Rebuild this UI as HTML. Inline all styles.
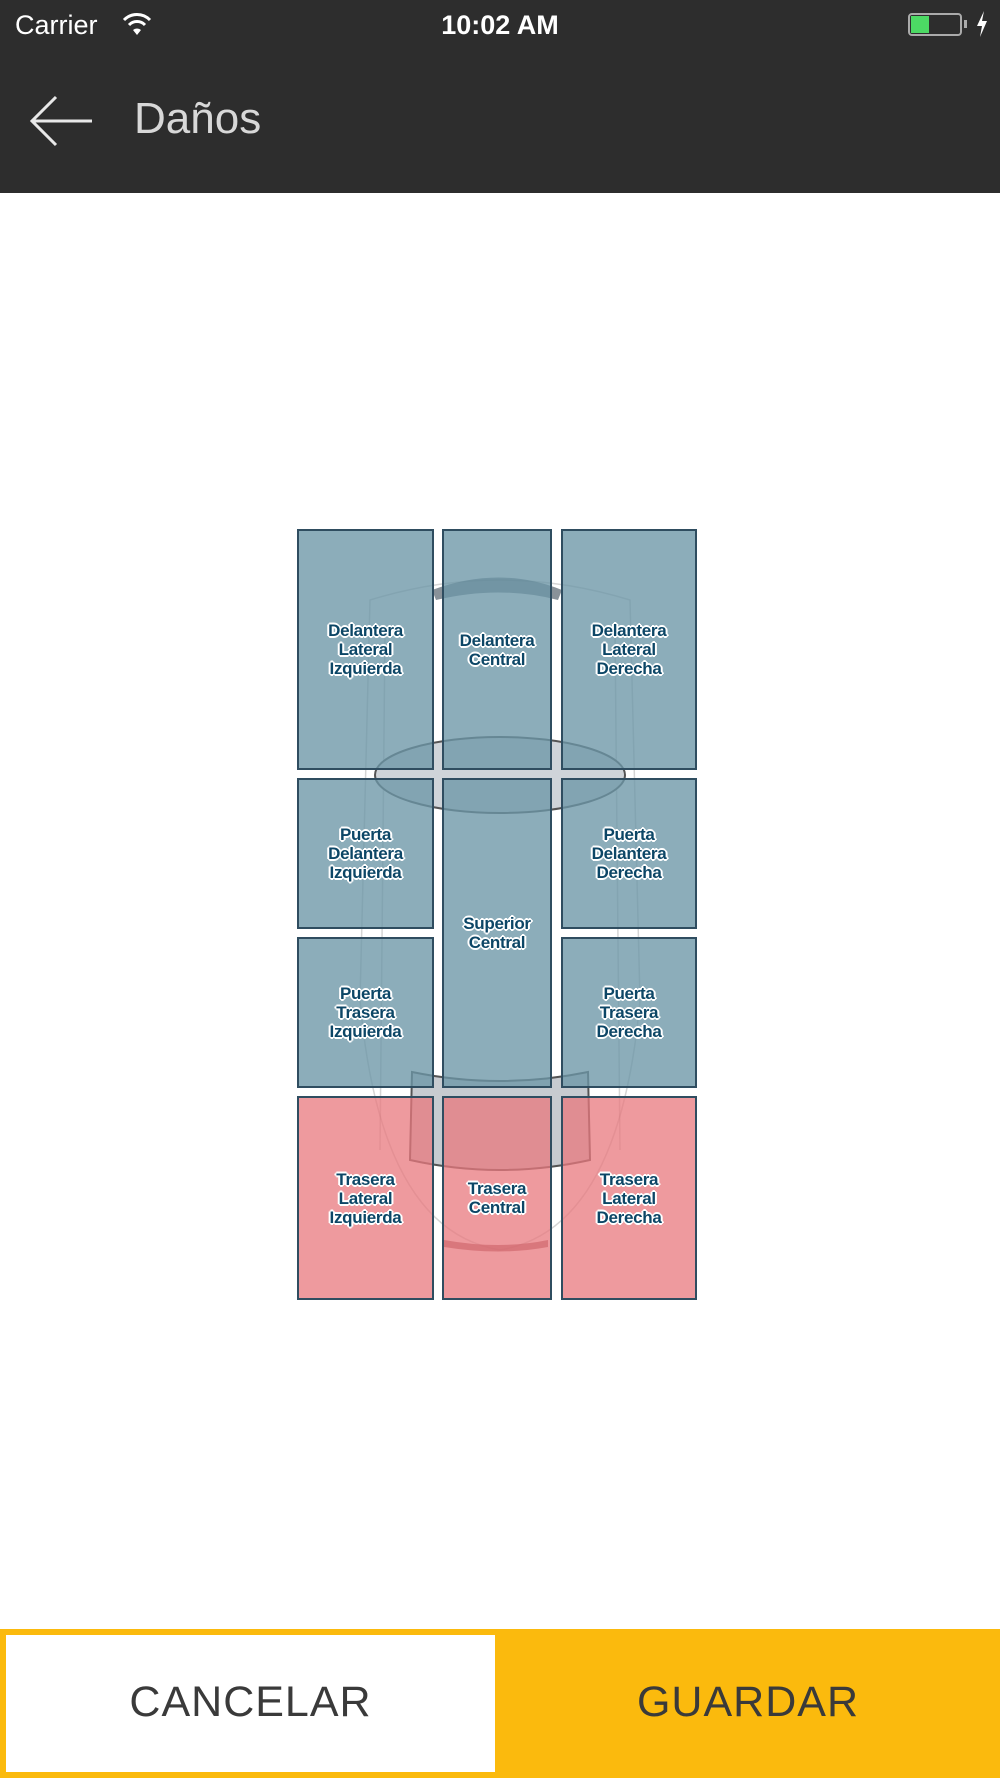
<!DOCTYPE html>
<html><head><meta charset="utf-8"><style>
*{margin:0;padding:0;box-sizing:border-box}
body{width:1000px;height:1778px;background:#fff;position:relative;overflow:hidden;font-family:"Liberation Sans",sans-serif}
.hdr{position:absolute;left:0;top:0;width:1000px;height:193px;background:#2d2d2d;color:#fff}
.box{position:absolute;border:2px solid #2f4d60;background:rgba(108,150,166,0.78);display:flex;align-items:center;justify-content:center;text-align:center}
.red{background:rgba(232,120,126,0.75)}
.box span{font-weight:bold;font-size:17px;line-height:19px;color:#0c4666;letter-spacing:-0.3px;text-shadow:-2px 0 #fff,2px 0 #fff,0 -2px #fff,0 2px #fff,-1px -1px #fff,1px 1px #fff,-1px 1px #fff,1px -1px #fff}
</style></head><body>
<div class="hdr">
<div style="position:absolute;left:15px;top:10px;font-size:27px">Carrier</div>
<svg style="position:absolute;left:122px;top:12px" width="30" height="24" viewBox="0 0 30 24"><path d="M2 8 A18 18 0 0 1 28 8" stroke="#fff" stroke-width="3" fill="none"/><path d="M7 13 A11 11 0 0 1 23 13" stroke="#fff" stroke-width="3" fill="none"/><path d="M11 18 L15 23 L19 18 A6 6 0 0 0 11 18Z" fill="#fff"/></svg>
<div style="position:absolute;left:0;width:1000px;top:10px;text-align:center;font-size:27px;font-weight:bold">10:02 AM</div>
<div style="position:absolute;left:908px;top:13px;width:54px;height:23px;border:2px solid #aaa;border-radius:4px"><div style="width:18px;height:17px;margin:1px;background:#4cd964"></div></div>
<div style="position:absolute;left:964px;top:20px;width:3px;height:8px;background:#aaa"></div>
<svg style="position:absolute;left:975px;top:11px" width="14" height="26" viewBox="0 0 14 26"><path d="M9 0 L2 15 L7 15 L5 26 L12 10 L7 10Z" fill="#fff"/></svg>
<svg style="position:absolute;left:28px;top:94px" width="68" height="54" viewBox="0 0 68 54"><path d="M28 3 L4 27 L28 51 M4 27 L64 27" stroke="#e8e8e8" stroke-width="3" fill="none"/></svg>
<div style="position:absolute;left:134px;top:94px;font-size:44px;color:#d8d8d8">Daños</div>
</div>
<svg style="position:absolute;left:0;top:0" width="1000" height="1400">
<g fill="none" stroke="#888" stroke-opacity="0.35" stroke-width="1.5">
<path d="M370 600 Q500 560 630 600 L640 1000 Q620 1230 500 1250 Q380 1230 360 1000 Z"/>
<path d="M385 630 L380 1150 M615 630 L620 1150"/>
</g>
<ellipse cx="500" cy="775" rx="125" ry="38" fill="#cfd4d9" stroke="#555" stroke-width="2"/>
<path d="M432 590 Q500 565 562 590 L558 600 Q500 585 436 600Z" fill="#3a4a55" opacity="0.6"/>
<path d="M412 1072 Q500 1090 588 1072 L590 1160 Q500 1180 410 1160Z" fill="#c7cbd0" stroke="#555" stroke-width="2"/>
<path d="M444 1240 Q500 1250 548 1240 L548 1247 Q500 1256 444 1247Z" fill="#8a3a40" opacity="0.7"/>
</svg>
<div class="box" style="left:297px;top:529px;width:137px;height:241px"><span>Delantera<br>Lateral<br>Izquierda</span></div>
<div class="box" style="left:442px;top:529px;width:110px;height:241px"><span>Delantera<br>Central</span></div>
<div class="box" style="left:561px;top:529px;width:136px;height:241px"><span>Delantera<br>Lateral<br>Derecha</span></div>
<div class="box" style="left:297px;top:778px;width:137px;height:151px"><span>Puerta<br>Delantera<br>Izquierda</span></div>
<div class="box" style="left:442px;top:778px;width:110px;height:310px"><span>Superior<br>Central</span></div>
<div class="box" style="left:561px;top:778px;width:136px;height:151px"><span>Puerta<br>Delantera<br>Derecha</span></div>
<div class="box" style="left:297px;top:937px;width:137px;height:151px"><span>Puerta<br>Trasera<br>Izquierda</span></div>
<div class="box" style="left:561px;top:937px;width:136px;height:151px"><span>Puerta<br>Trasera<br>Derecha</span></div>
<div class="box red" style="left:297px;top:1096px;width:137px;height:204px"><span>Trasera<br>Lateral<br>Izquierda</span></div>
<div class="box red" style="left:442px;top:1096px;width:110px;height:204px"><span>Trasera<br>Central</span></div>
<div class="box red" style="left:561px;top:1096px;width:136px;height:204px"><span>Trasera<br>Lateral<br>Derecha</span></div>
<div style="position:absolute;left:0;top:1629px;width:1000px;height:149px;background:#fbba0d"></div>
<div style="position:absolute;left:6px;top:1635px;width:489px;height:137px;background:#fff"></div>
<div style="position:absolute;left:6px;width:489px;top:1678px;text-align:center;font-size:43px;color:#3a3a3a;letter-spacing:1px">CANCELAR</div>
<div style="position:absolute;left:500px;width:496px;top:1678px;text-align:center;font-size:43px;color:#3a3a3a;letter-spacing:1px">GUARDAR</div>
</body></html>
